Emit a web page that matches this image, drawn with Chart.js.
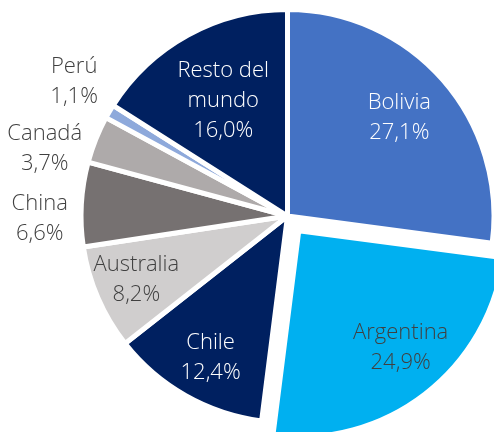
<!DOCTYPE html>
<html>
<head>
<meta charset="utf-8">
<script src="https://cdn.jsdelivr.net/npm/chart.js@4.4.0/dist/chart.umd.min.js"></script>
<style>
  html, body { margin: 0; padding: 0; background: #fff; }
  #wrap { width: 494px; height: 432px; }
</style>
</head>
<body>
<div id="wrap"><canvas id="chart" width="494" height="432"></canvas></div>
<script>
const paises = ["Bolivia", "Argentina", "Chile", "Australia", "China", "Canadá", "Perú", "Resto del mundo"];
const participacion = [27.1, 24.9, 12.4, 8.2, 6.6, 3.7, 1.1, 16.0];

const colores = ["#4472C4", "#00B0F0", "#002060", "#D0CECE", "#767171", "#AEAAAA", "#8EA9DB", "#002060"];
const textColor = ["#ffffff", "#404040", "#ffffff", "#404040", "#404040", "#404040", "#404040", "#ffffff"];
const labelLines = [["Bolivia"], ["Argentina"], ["Chile"], ["Australia"], ["China"], ["Canadá"], ["Perú"], ["Resto del", "mundo"]];
// [radius factor, angle shift in degrees] for each label
const labelPlace = [[0.72, 0], [0.75, -3.5], [0.78, -1], [0.795, 0.4], [1.2, -3.9], [1.22, -6.3], [1.22, 1.7], [0.64, -0.3]];

const fmt = (v) => v.toFixed(1).replace(".", ",") + "%";

const pieLabels = {
  id: "pieLabels",
  afterDatasetsDraw(chart) {
    const ctx = chart.ctx;
    const meta = chart.getDatasetMeta(0);
    ctx.save();
    ctx.font = "300 22px 'Open Sans'";
    ctx.textAlign = "center";
    ctx.textBaseline = "middle";
    meta.data.forEach((arc, i) => {
      const p = arc.getProps(["x", "y", "startAngle", "endAngle", "outerRadius"], true);
      const off = (arc.options.offset || 0) / 4;
      const mid = (p.startAngle + p.endAngle) / 2;
      const cx = p.x + Math.cos(mid) * off;
      const cy = p.y + Math.sin(mid) * off;
      const a = mid + labelPlace[i][1] * Math.PI / 180;
      const r = p.outerRadius * labelPlace[i][0];
      const x = cx + Math.cos(a) * r;
      const y = cy + Math.sin(a) * r;
      const lines = labelLines[i].concat([fmt(participacion[i])]);
      const lh = 30;
      ctx.fillStyle = textColor[i];
      lines.forEach((t, k) => {
        ctx.fillText(t, x, y + (k - (lines.length - 1) / 2) * lh);
      });
    });
    ctx.restore();
  }
};

new Chart(document.getElementById("chart"), {
  type: "pie",
  data: {
    labels: paises,
    datasets: [{
      data: participacion,
      backgroundColor: colores,
      borderColor: "#ffffff",
      borderWidth: 5,
      offset: [0, 74, 0, 0, 0, 0, 0, 0],
      hoverOffset: 0,
      clip: false
    }]
  },
  options: {
    responsive: false,
    animation: false,
    radius: 206.5,
    layout: { padding: { left: 81, right: 0, top: 0, bottom: 0 } },
    plugins: {
      legend: { display: false },
      tooltip: { enabled: false }
    }
  },
  plugins: [pieLabels]
});
</script>
</body>
</html>
